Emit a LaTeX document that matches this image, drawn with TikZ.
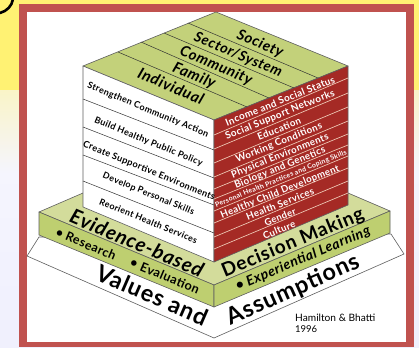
\documentclass[tikz,border=0pt]{standalone}
\usepackage{graphicx}
\usepackage{fontspec}
\setmainfont{Lato}[LetterSpace=4]
\newfontfamily\plainfont{Lato}
\newcommand\fw[2]{\resizebox{#1pt}{!}{#2}}
\definecolor{framered}{RGB}{192,82,79}
\definecolor{brick}{RGB}{165,42,37}
\definecolor{topgreen}{RGB}{195,209,122}
\definecolor{paleg}{RGB}{211,220,155}
\definecolor{sideg}{RGB}{190,207,112}
\definecolor{edge}{RGB}{95,95,95}
\definecolor{cream}{RGB}{240,205,185}
\tikzset{
  face/.style={draw=edge,line width=0.6pt,line join=round},
  sep/.style={draw=black!80,line width=0.5pt},
  rsep/.style={draw=cream,line width=0.65pt},
  lab/.style={inner sep=0pt,anchor=center,text=black},
  ltxt/.style={lab,rotate=-22.4,font=\bfseries},
  rtxt/.style={lab,rotate=22,text=white,font=\bfseries},
  ttxt/.style={lab,rotate=-23,font=\bfseries\itshape},
}
\begin{document}
\begin{tikzpicture}[x=1pt,y=-1pt]
\useasboundingbox (0,0) rectangle (419,347);
% background
\shade[top color=white!92!red!60!yellow,bottom color=black!12!blue!6!white,middle color=black!6!blue!4!white] (0,0) rectangle (419,347);
\fill[white!90!red!50!yellow] (0,0) rectangle (419,90);
\draw[black,line width=2.6pt,line cap=round] (13,-1) .. controls (12,6) and (7,11) .. (0,13);
% frame
\fill[framered] (19,4) rectangle (414,347);
\fill[white] (27,12) rectangle (406,342);
% base
\draw[face,fill=white] (39,237) -- (27,256) -- (214,338) -- (404,254) -- (391,234) -- cycle;
% platform
\draw[face,fill=paleg] (83,193) -- (39,212) -- (214,285) -- (390,211) -- (348,193) -- cycle;
\draw[face,fill=sideg] (39,212) -- (214,285) -- (214,307) -- (39,235) -- cycle;
\draw[face,fill=sideg] (214,285) -- (390,211) -- (390,233) -- (214,307) -- cycle;
% cube faces
\draw[face,fill=topgreen] (216,12) -- (83,66) -- (214,120) -- (348,66) -- cycle;
\draw[face,fill=white] (83,66) -- (214,120) -- (214,262) -- (83,207) -- cycle;
\draw[face,fill=brick] (214,120) -- (348,66) -- (348,205) -- (214,262) -- cycle;
% top separators
\draw[sep] (118,52) -- (247,107);
\draw[sep] (141,42) -- (269,98);
\draw[sep] (164,33) -- (294,88);
\draw[sep] (188,23) -- (318,78);
% left separators
\draw[sep] (83,99) -- (214,150);
\draw[sep] (83,127) -- (214,178);
\draw[sep] (83,155) -- (214,205);
\draw[sep] (83,181) -- (214,233);
% right separators
\foreach \c/\r in {135/78,149/93,163/107,177/121,189/134,199/145,211/156,223/168,237/181,249/193}
  \draw[rsep] (214,\c) -- (348,\r);
% top labels
\node[ttxt] (t1) at (171,86) {\fw{70}{Individual}};
\node[ttxt] (t2) at (194,76) {\fw{45}{Family}};
\node[ttxt] (t3) at (216,66) {\fw{77}{Community}};
\node[ttxt] (t4) at (238,55) {\fw{94}{Sector/System}};
\node[ttxt] (t5) at (260,44) {\fw{49}{Society}};
% left labels
\node[ltxt] (l1) at (148,110) {\fw{130}{Strengthen Community Action}};
\node[ltxt] (l2) at (148.5,142) {\fw{116}{Build Healthy Public Policy}};
\node[ltxt] (l3) at (149,171) {\fw{142}{Create Supportive Environments}};
\node[ltxt] (l4) at (148.5,194) {\fw{98}{Develop Personal Skills}};
\node[ltxt] (l5) at (148.5,221) {\fw{105}{Reorient Health Services}};
% right labels
\node[rtxt] (r1) at (280,101) {\fw{117}{Income and Social Status}};
\node[rtxt] (r2) at (280,115) {\fw{117}{Social Support Networks}};
\node[rtxt] (r3) at (279,129) {\fw{46}{Education}};
\node[rtxt] (r4) at (279,143) {\fw{92}{Working Conditions}};
\node[rtxt] (r5) at (280,156) {\fw{104}{Physical Environments}};
\node[rtxt] (r6) at (280,168) {\fw{97}{Biology and Genetics}};
\node[rtxt] (r7) at (281,179) {\fw{141}{Personal Health Practices and Coping Skills}};
\node[rtxt] (r8) at (280,192) {\fw{127}{Healthy Child Development}};
\node[rtxt] (r9) at (280,204) {\fw{72}{Health Services}};
\node[rtxt] (r10) at (280,217) {\fw{33}{Gender}};
\node[rtxt] (r11) at (279,230) {\fw{34}{Culture}};
% platform labels
\node[ttxt] (p1) at (137,243) {\fw{143}{Evidence-based}};
\node[lab,rotate=22.5,font=\bfseries] (p2) at (293,243) {\fw{152}{Decision Making}};
\node[lab,rotate=-23,font=\bfseries] (p3) at (86,244) {\fw{64}{• Research}};
\node[lab,rotate=-23,font=\bfseries] (p4) at (165,276) {\fw{74}{• Evaluation}};
\node[lab,rotate=23,font=\bfseries\itshape] (p5) at (303,259) {\fw{145}{• Experiential Learning}};
% base labels
\node[lab,rotate=-23.5,font=\bfseries] (b1) at (152,295) {\fw{119}{Values and}};
\node[lab,rotate=24,font=\bfseries] (b2) at (293,290) {\fw{143}{Assumptions}};
\node[lab,anchor=west,font=\plainfont] (h1) at (295,318) {\fw{80}{Hamilton \& Bhatti}};
\node[lab,anchor=west,font=\plainfont] (h2) at (295,329) {\fw{22}{1996}};
\end{tikzpicture}
\end{document}
